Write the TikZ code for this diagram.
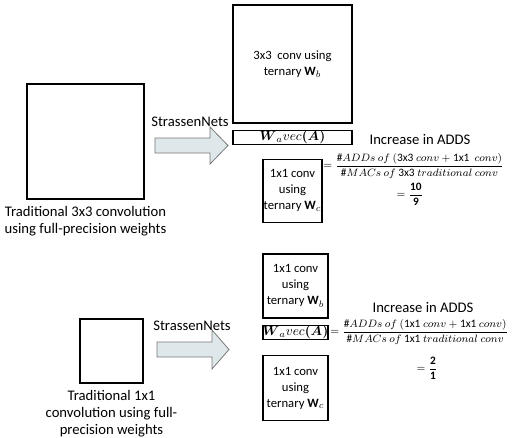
\documentclass[tikz,border=0pt]{standalone}
\usepackage{fontspec}
\setmainfont{Carlito}
\usepackage{amsmath}
\usepackage{amssymb}
\usetikzlibrary{positioning}
\definecolor{ArrowFill}{RGB}{222,232,234}
\definecolor{ArrowEdge}{RGB}{120,120,120}
\newcommand{\wide}[1]{\makebox[0pt]{#1}}
\tikzset{
  sqbox/.style={draw=black,line width=0.9pt,inner sep=0pt},
  cbox/.style={draw=black,line width=0.9pt,inner sep=0pt,align=center,
               font=\fontsize{9.5}{12}\selectfont},
  wbox/.style={draw=black,line width=0.9pt,inner sep=0pt,
               minimum height=10.5pt,font=\fontsize{10}{12}\selectfont},
  lbl/.style={inner sep=0pt,align=center,font=\fontsize{11}{12.5}\selectfont},
  frac/.style={inner sep=0pt,font=\fontsize{8.5}{10}\selectfont},
  blockarr/.style={draw=ArrowEdge,fill=ArrowFill,line width=0.6pt,line join=miter},
}
\begin{document}
\begin{tikzpicture}[x=0.75pt,y=-0.75pt]
  \useasboundingbox (0,0) rectangle (519,437);
  % 3x3 case
  \node[sqbox,minimum width=87.75pt,minimum height=86.25pt] (sq3) at (85.5,141.5) {};
  \node[lbl,below=5pt of sq3] (t3) {Traditional 3x3 convolution\\using full-precision weights};
  \draw[blockarr] (155,138) -- (210,138) -- (210,127) -- (228,145.5)
        -- (210,164) -- (210,153) -- (155,153) -- cycle;
  \node[lbl] (s3) at (190,122) {StrassenNets};
  \node[cbox,minimum width=89.25pt,minimum height=88.5pt] (b3) at (292.5,64)
       {3x3~ conv using\\ternary $\mathbf{W}_b$};
  \node[wbox,minimum width=89.25pt,below=4.5pt of b3] (wa3)
       {$\boldsymbol{W}_a vec\boldsymbol{(A)}$};
  \node[cbox,minimum width=44.25pt,minimum height=47.25pt,below=10.5pt of wa3] (c3)
       {1x1 conv\\using\\\wide{ternary $\mathbf{W}_c$}};
  \node[lbl] (i3) at (420,140) {Increase in ADDS};
  \node[frac,anchor=west] (f3) at (323,166)
       {$=\dfrac{\#ADDs\ of\ (\mathrm{3x3}\ conv+\mathrm{1x1}\ \ conv)}{\#MACs\ of\ \mathrm{3x3}\ traditional\ conv}$};
  \node[frac] (q3) at (410,194) {$=\dfrac{\mathbf{10}}{\mathbf{9}}$};
  % 1x1 case
  \node[sqbox,minimum width=47.25pt,minimum height=48pt] (sq1) at (111.5,351) {};
  \node[lbl,below=5pt of sq1] (t1) {Traditional 1x1\\convolution using full-\\precision weights};
  \draw[blockarr] (157,342) -- (212,342) -- (212,330) -- (229,349.5)
        -- (212,369) -- (212,357) -- (157,357) -- cycle;
  \node[lbl] (s1) at (192,326) {StrassenNets};
  \node[cbox,minimum width=48.75pt,minimum height=48pt] (b1) at (295.5,286)
       {1x1 conv\\using\\\wide{ternary $\mathbf{W}_b$}};
  \node[wbox,minimum width=48.75pt,line width=1.3pt,below=4.5pt of b1] (wa1)
       {\wide{$\boldsymbol{W}_a vec\boldsymbol{(A)}$}};
  \node[cbox,minimum width=48.75pt,minimum height=48.75pt,below=11pt of wa1] (c1)
       {1x1 conv\\using\\\wide{ternary $\mathbf{W}_c$}};
  \node[lbl] (i1) at (423,308) {Increase in ADDS};
  \node[frac,anchor=west] (f1) at (330,332)
       {$=\dfrac{\#ADDs\ of\ (\mathrm{1x1}\ conv+\mathrm{1x1}\ conv)}{\#MACs\ of\ \mathrm{1x1}\ traditional\ conv}$};
  \node[frac] (q1) at (427,368) {$=\dfrac{\mathbf{2}}{\mathbf{1}}$};
\end{tikzpicture}
\end{document}
